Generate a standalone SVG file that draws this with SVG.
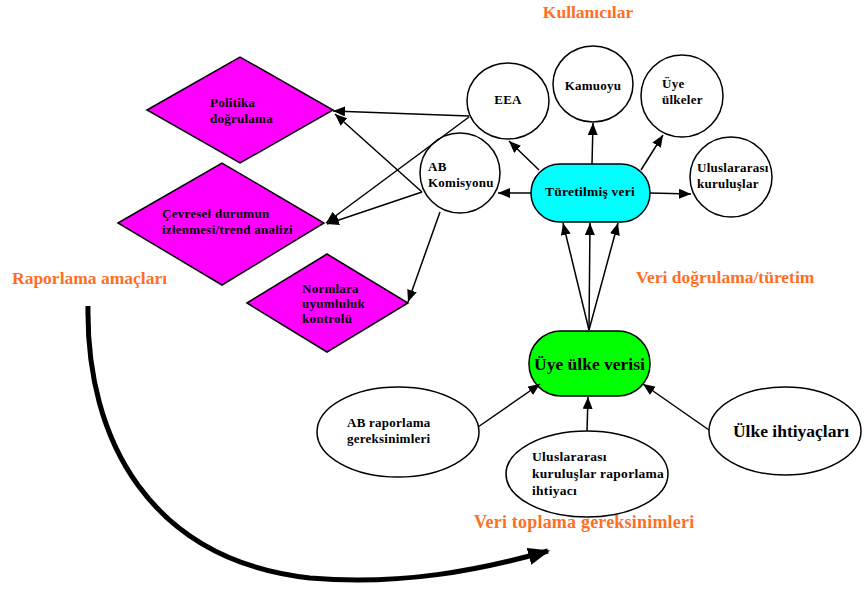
<svg xmlns="http://www.w3.org/2000/svg" width="865" height="590" viewBox="0 0 865 590">
<defs>
<marker id="ah" viewBox="0 0 12 10" refX="12" refY="5" markerWidth="12" markerHeight="10" markerUnits="userSpaceOnUse" orient="auto">
<path d="M0,0 L12,5 L0,10 Z" fill="#000"/>
</marker>
<marker id="bigah" viewBox="0 0 20 16" refX="18" refY="8" markerWidth="22" markerHeight="18" markerUnits="userSpaceOnUse" orient="auto">
<path d="M0,0 L20,8 L0,16 Z" fill="#000"/>
</marker>
</defs>
<style>
.n{stroke:#000;stroke-width:1.5}
.d{fill:#ff00ff}
.e{fill:#fff}
.t{font-family:"Liberation Serif","Times New Roman",serif;font-weight:bold;font-size:13px;letter-spacing:0.25px;fill:#000}
.o{font-family:"Liberation Serif","Times New Roman",serif;font-weight:bold;font-size:17.5px;fill:#ff6f1f}
.c line,.c path{stroke:#000;stroke-width:1.5;fill:none}
.u{font-size:13.5px;letter-spacing:0.3px}
</style>
<rect width="865" height="590" fill="#fff"/>

<g id="lbl-kullanicilar"><text class="o" x="588" y="18" text-anchor="middle">Kullanıcılar</text></g>
<g id="lbl-raporlama"><text class="o" x="12" y="284">Raporlama amaçları</text></g>
<g id="lbl-dogrulama"><text class="o" x="636" y="283">Veri doğrulama/türetim</text></g>
<g id="lbl-toplama"><text class="o" x="474" y="528" style="font-size:18px;letter-spacing:0.2px">Veri toplama gereksinimleri</text></g>

<g id="politika"><polygon class="n d" points="147,110 240,57 333,110 240,163"/>
<text class="t" x="210" y="107">Politika</text><text class="t" x="210" y="123">doğrulama</text></g>
<g id="cevresel"><polygon class="n d" points="118,223 222,163 324,223 222,285"/>
<text class="t" x="162" y="218">Çevresel durumun</text><text class="t" x="162" y="234">izlenmesi/trend analizi</text></g>
<g id="normlara"><polygon class="n d" points="247,303 327,254 408,303 327,352"/>
<text class="t" x="302" y="293">Normlara</text><text class="t" x="302" y="308">uyumluluk</text><text class="t" x="302" y="323">kontrolü</text></g>

<g id="eea"><ellipse class="n e" cx="508" cy="101" rx="41" ry="38"/><text class="t" x="508" y="104" text-anchor="middle">EEA</text></g>
<g id="kamuoyu"><ellipse class="n e" cx="593" cy="84" rx="40" ry="38"/><text class="t" x="593" y="90" text-anchor="middle">Kamuoyu</text></g>
<g id="uyeulkeler"><ellipse class="n e" cx="682" cy="96" rx="41" ry="41"/><text class="t" x="662" y="88">Üye</text><text class="t" x="662" y="104">ülkeler</text></g>
<g id="abkomisyonu"><ellipse class="n e" cx="460" cy="173" rx="40" ry="40"/><text class="t" x="428" y="171">AB</text><text class="t" x="428" y="187">Komisyonu</text></g>
<g id="uluslararasi"><ellipse class="n e" cx="731" cy="177" rx="41" ry="40"/><text class="t" x="697" y="172">Uluslararası</text><text class="t" x="697" y="188">kuruluşlar</text></g>
<g id="turetilmis"><rect class="n" x="531" y="164" width="119" height="58" rx="29" fill="#00ffff"/><text class="t" x="590" y="196" text-anchor="middle" style="font-size:13.5px">Türetilmiş veri</text></g>

<g id="uyeulkeverisi"><rect class="n" x="529" y="331" width="121" height="65" rx="32" fill="#00ff00"/><text class="t" x="589.5" y="370" text-anchor="middle" style="font-size:17.5px;letter-spacing:0">Üye ülke verisi</text></g>
<g id="abraporlama"><ellipse class="n e" cx="398" cy="432" rx="81" ry="45"/><text class="t" x="347" y="427">AB raporlama</text><text class="t" x="347" y="443">gereksinimleri</text></g>
<g id="ulusihtiyac"><ellipse class="n e" cx="587" cy="474" rx="81" ry="43"/><text class="t u" x="532" y="461">Uluslararası</text><text class="t u" x="532" y="478">kuruluşlar raporlama</text><text class="t u" x="532" y="495">ihtiyacı</text></g>
<g id="ulkeihtiyac"><ellipse class="n e" cx="785" cy="431" rx="76" ry="44"/><text class="t" x="791" y="437" text-anchor="middle" style="font-size:17.5px;letter-spacing:0">Ülke ihtiyaçları</text></g>

<g id="connectors" class="c">
<line x1="469" y1="116" x2="333" y2="111" marker-end="url(#ah)"/>
<line x1="469" y1="117" x2="326" y2="223" marker-end="url(#ah)"/>
<line x1="422" y1="192" x2="335" y2="114" marker-end="url(#ah)"/>
<line x1="422" y1="192" x2="327" y2="224" marker-end="url(#ah)"/>
<line x1="440" y1="212" x2="408" y2="302" marker-end="url(#ah)"/>
<line x1="539" y1="170" x2="509" y2="141" marker-end="url(#ah)"/>
<line x1="592" y1="164" x2="593" y2="123" marker-end="url(#ah)"/>
<line x1="641" y1="170" x2="663" y2="135" marker-end="url(#ah)"/>
<line x1="650" y1="193" x2="691" y2="194" marker-end="url(#ah)"/>
<line x1="531" y1="193" x2="498" y2="193" marker-end="url(#ah)"/>
<line x1="589" y1="330" x2="563" y2="223" marker-end="url(#ah)"/>
<line x1="589" y1="330" x2="590" y2="223" marker-end="url(#ah)"/>
<line x1="589" y1="330" x2="618" y2="223" marker-end="url(#ah)"/>
<line x1="478" y1="427" x2="540" y2="384" marker-end="url(#ah)"/>
<line x1="587" y1="431" x2="588" y2="397" marker-end="url(#ah)"/>
<line x1="709" y1="430" x2="643" y2="384" marker-end="url(#ah)"/>
<path d="M88,306 C86,440 150,560 310,578 C400,586 480,570 548,551" style="stroke-width:5" marker-end="url(#bigah)"/>
</g>
</svg>
